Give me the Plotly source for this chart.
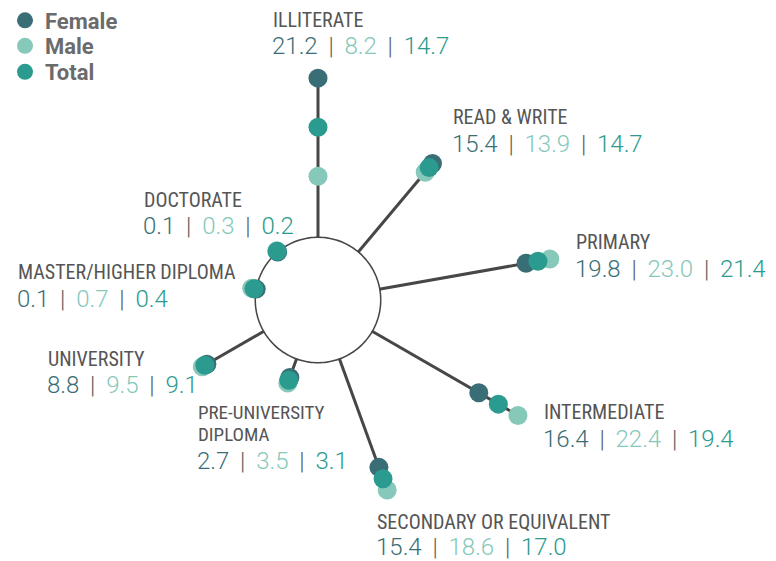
import plotly.graph_objects as go

# ---------------- data ----------------
categories = ["ILLITERATE", "READ & WRITE", "PRIMARY", "INTERMEDIATE",
              "SECONDARY OR EQUIVALENT", "PRE-UNIVERSITY DIPLOMA", "UNIVERSITY",
              "MASTER/HIGHER DIPLOMA", "DOCTORATE"]
female = [21.2, 15.4, 19.8, 16.4, 15.4, 2.7, 8.8, 0.1, 0.1]
male = [8.2, 13.9, 23.0, 22.4, 18.6, 3.5, 9.5, 0.7, 0.3]
total = [14.7, 14.7, 21.4, 19.4, 17.0, 3.1, 9.1, 0.4, 0.2]
series_names = ["Female", "Male", "Total"]

# ---------------- style ----------------
C_F, C_M, C_T = "#3a6e76", "#86c8ba", "#2a9b8e"
C_LINE = "#474747"
C_LABEL = "#555555"
OFF = 8                     # page body margin
W, H = 776 - OFF, 561 - OFF
CX, CY = 318 - OFF, 300 - OFF   # centre of the ring (px, figure coords)
HOLE_PX = 62
PX_PER_UNIT = 7.54
RMAX = 25.0
R_PX = HOLE_PX + PX_PER_UNIT * RMAX


def px(x):
    return (x - OFF) / W


def py(y):
    return 1 - (y - OFF) / H


n = len(categories)
theta = [i * 360.0 / n for i in range(n)]

fig = go.Figure()

# spokes
sp_r, sp_t = [], []
for i in range(n):
    sp_r += [0, max(female[i], male[i], total[i]), None]
    sp_t += [theta[i], theta[i], None]
fig.add_trace(go.Scatterpolar(r=sp_r, theta=sp_t, mode="lines",
                              line=dict(color=C_LINE, width=3),
                              showlegend=False, hoverinfo="skip", cliponaxis=False))
# ring
ring_t = list(range(0, 361, 2))
fig.add_trace(go.Scatterpolar(r=[0] * len(ring_t), theta=ring_t, mode="lines",
                              line=dict(color=C_LINE, width=3),
                              showlegend=False, hoverinfo="skip", cliponaxis=False))

# dots: male, female, total (total on top); each in its own legend box
legend_y = {"Female": 20.5, "Male": 46, "Total": 72}
for name, vals, col, leg in [("Male", male, C_M, "legend2"), ("Female", female, C_F, "legend"),
                             ("Total", total, C_T, "legend3")]:
    fig.add_trace(go.Scatterpolar(r=vals, theta=theta, mode="markers", name=name,
                                  marker=dict(size=19, color=col),
                                  legend=leg, cliponaxis=False,
                                  text=categories))

# label layout (screen px: x-left, label centre y, numbers centre y)
label_pos = {
    "ILLITERATE": (271, 20, 46),
    "READ & WRITE": (451, 117, 144),
    "PRIMARY": (574, 242, 268.5),
    "INTERMEDIATE": (542, 412, 438.5),
    "SECONDARY OR EQUIVALENT": (375, 522, 546.5),
    "PRE-UNIVERSITY DIPLOMA": (196, 423.5, 461),
    "UNIVERSITY": (46, 359, 385),
    "MASTER/HIGHER DIPLOMA": (16, 272.5, 299),
    "DOCTORATE": (142, 199.5, 226),
}
label_lines = {"PRE-UNIVERSITY DIPLOMA": ["PRE-UNIVERSITY", "DIPLOMA"]}

LABEL_FAMILY = "Roboto Condensed, DejaVu Sans Condensed, Liberation Sans Narrow, Roboto"
LABEL_FONT = dict(family=LABEL_FAMILY, size=20, color=C_LABEL)
NUM_FONT = dict(family="Roboto", size=24, color="#5a5a5a", weight=300)
SEP = "\u00a0\u2009|\u2009\u00a0"

annotations = []
for i, cat in enumerate(categories):
    x, ly, ny = label_pos[cat]
    lines = label_lines.get(cat)
    if lines:
        # tighter line spacing: small base size, glyphs enlarged by span
        txt = "<br>".join(f"<span style='font-size:19px'>{ln}</span>" for ln in lines)
        font = dict(LABEL_FONT, size=17.3)
    else:
        txt, font = cat, LABEL_FONT
    annotations.append(dict(text=txt, x=px(x), y=py(ly), xref="paper", yref="paper",
                            xanchor="left", yanchor="middle", align="left",
                            showarrow=False, font=font))
    num = (f"<span style='color:{C_F}'>{female[i]:.1f}</span>{SEP}"
           f"<span style='color:{C_M}'>{male[i]:.1f}</span>{SEP}"
           f"<span style='color:{C_T}'>{total[i]:.1f}</span>")
    annotations.append(dict(text=num, x=px(x - 1), y=py(ny), xref="paper", yref="paper",
                            xanchor="left", yanchor="middle", showarrow=False,
                            font=NUM_FONT))

LEG_FONT = dict(family="Roboto", size=22, color="#6b6b6b", weight="bold")


def leg(yc):
    return dict(x=px(5), y=py(yc), xanchor="left", yanchor="middle", font=LEG_FONT,
                bgcolor="rgba(0,0,0,0)", itemclick=False, itemdoubleclick=False)


fig.update_layout(
    width=W, height=H,
    margin=dict(l=0, r=0, t=0, b=0, autoexpand=False),
    paper_bgcolor="white", plot_bgcolor="white",
    polar=dict(
        domain=dict(x=[(CX - R_PX) / W, (CX + R_PX) / W],
                    y=[(H - CY - R_PX) / H, (H - CY + R_PX) / H]),
        hole=HOLE_PX / R_PX,
        bgcolor="rgba(0,0,0,0)",
        radialaxis=dict(range=[0, RMAX], visible=False),
        angularaxis=dict(rotation=90, direction="clockwise", visible=False),
    ),
    showlegend=True,
    legend=leg(legend_y["Female"]),
    legend2=leg(legend_y["Male"]),
    legend3=leg(legend_y["Total"]),
    annotations=annotations,
)

fig.write_html("out.html")
